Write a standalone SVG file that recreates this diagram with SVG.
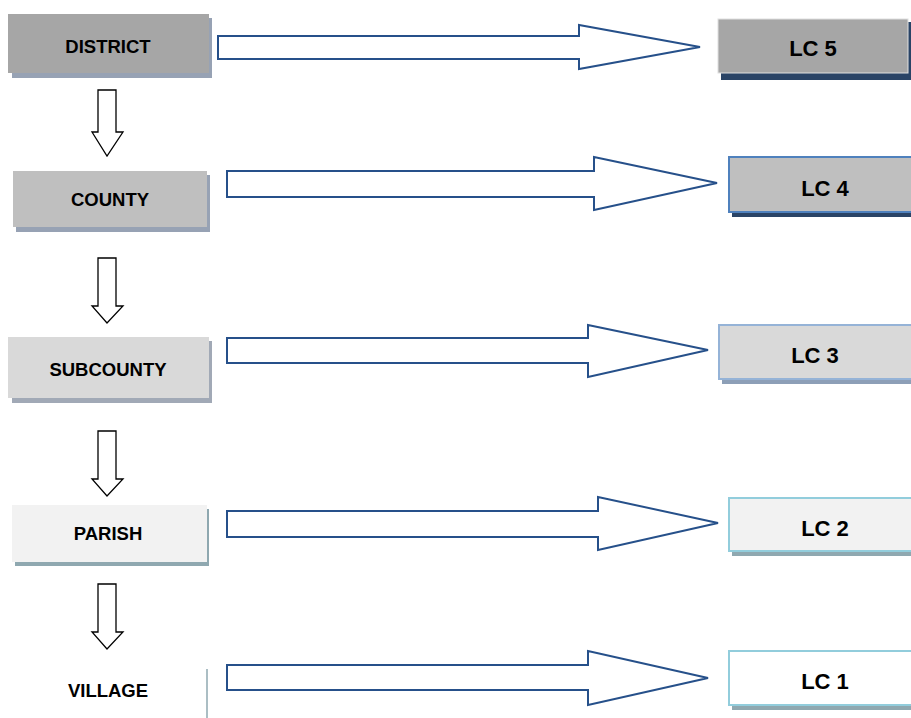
<svg xmlns="http://www.w3.org/2000/svg" width="911" height="718" viewBox="0 0 911 718">
<style>
.lbl{font-family:"Liberation Sans",Arial,sans-serif;font-weight:bold;font-size:18.5px;fill:#000;text-anchor:middle;dominant-baseline:central}
.lc{font-family:"Liberation Sans",Arial,sans-serif;font-weight:bold;font-size:22px;fill:#000;text-anchor:middle;dominant-baseline:central}
.harrow{fill:#fff;stroke:#26508a;stroke-width:2;stroke-linejoin:miter}
.varrow{fill:#fff;stroke:#000;stroke-width:1.3;stroke-linejoin:miter}
</style>
<rect width="911" height="718" fill="#fff"/>
<g id="district">
<rect x="12" y="18" width="200" height="60" fill="#97a2b4"/>
<rect x="8" y="14" width="201" height="59" fill="#a6a6a6"/>
<text class="lbl" x="108" y="46">DISTRICT</text>
</g>
<g id="county">
<rect x="16" y="175" width="194" height="57" fill="#97a2b4"/>
<rect x="13" y="171" width="194" height="56" fill="#bfbfbf"/>
<text class="lbl" x="110" y="199">COUNTY</text>
</g>
<g id="subcounty">
<rect x="12" y="341" width="200" height="62" fill="#a1a9b6"/>
<rect x="8" y="337" width="201" height="61" fill="#d9d9d9"/>
<text class="lbl" x="108" y="369">SUBCOUNTY</text>
</g>
<g id="parish">
<rect x="15" y="509" width="194" height="57" fill="#8fa8b0"/>
<rect x="12" y="505" width="195" height="57" fill="#f2f2f2"/>
<text class="lbl" x="108" y="533">PARISH</text>
</g>
<g id="village">
<line x1="207" y1="669" x2="207" y2="718" stroke="#8fa8b0" stroke-width="1.5"/>
<text class="lbl" x="108" y="690">VILLAGE</text>
</g>
<g id="lc5">
<rect x="721" y="22" width="190" height="58" fill="#2a4466"/>
<rect x="718" y="19" width="190" height="54" fill="#a6a6a6" stroke="#e0e0e0" stroke-width="1"/>
<text class="lc" x="813" y="48">LC 5</text>
</g>
<g id="lc4">
<rect x="732" y="160" width="182" height="57" fill="#2a4466"/>
<rect x="729" y="157" width="184" height="55" fill="#bfbfbf" stroke="#4f81bd" stroke-width="2"/>
<text class="lc" x="825" y="188">LC 4</text>
</g>
<g id="lc3">
<rect x="722" y="328" width="192" height="56" fill="#8d9fb7"/>
<rect x="719" y="325" width="194" height="54" fill="#d9d9d9" stroke="#95b3d7" stroke-width="2"/>
<text class="lc" x="815" y="355">LC 3</text>
</g>
<g id="lc2">
<rect x="732" y="501" width="182" height="55" fill="#8fa8b0"/>
<rect x="729" y="498" width="184" height="53" fill="#f2f2f2" stroke="#92cddc" stroke-width="2"/>
<text class="lc" x="825" y="528">LC 2</text>
</g>
<g id="lc1">
<rect x="732" y="654" width="182" height="56" fill="#8fa8b0"/>
<rect x="729" y="651" width="184" height="54" fill="#fff" stroke="#92cddc" stroke-width="2"/>
<text class="lc" x="825" y="681">LC 1</text>
</g>
<g id="connectors">
<polygon class="harrow" points="218,36 579,36 579,25 700,47 579,69 579,59 218,59"/>
<polygon class="harrow" points="227,171 594,171 594,157 717,183 594,210 594,197 227,197"/>
<polygon class="harrow" points="227,338 588,338 588,325 708,350 588,377 588,363 227,363"/>
<polygon class="harrow" points="227,511 598,511 598,497 718,523 598,550 598,537 227,537"/>
<polygon class="harrow" points="227,665 588,665 588,651 708,678 588,705 588,690 227,690"/>
<polygon class="varrow" points="98,90 116,90 116,132 123,132 107,156 92,132 98,132"/>
<polygon class="varrow" points="98,258 116,258 116,306 123,306 107,323 92,306 98,306"/>
<polygon class="varrow" points="98,431 116,431 116,479 123,479 107,496 92,479 98,479"/>
<polygon class="varrow" points="98,584 116,584 116,632 123,632 107,649 92,632 98,632"/>
</g>
</svg>
